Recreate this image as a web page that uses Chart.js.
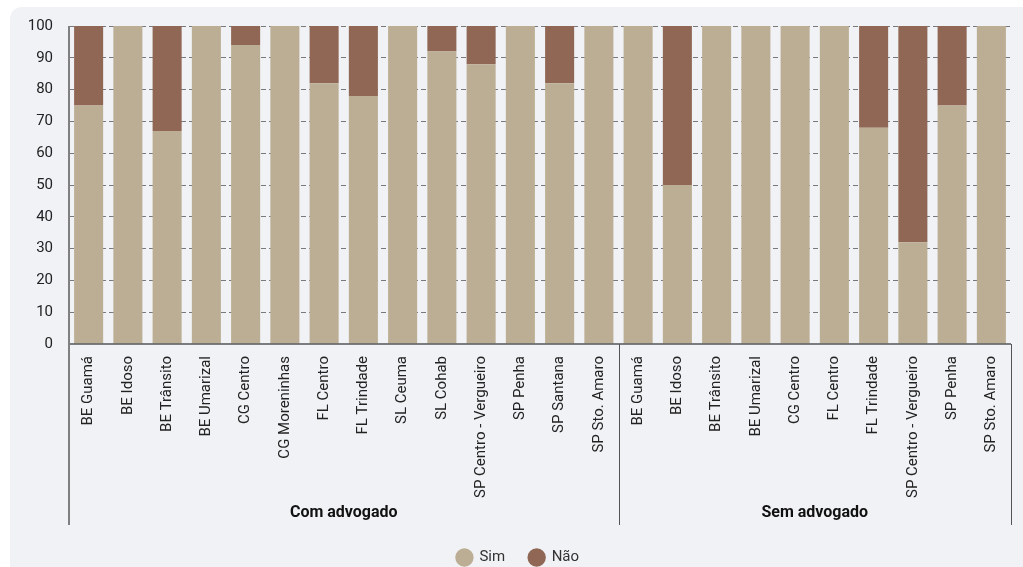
<!DOCTYPE html>
<html>
<head>
<meta charset="utf-8">
<script src="https://cdn.jsdelivr.net/npm/chart.js@4.4.1/dist/chart.umd.min.js"></script>
<style>
  html, body { margin: 0; padding: 0; background: #fff; width: 1023px; height: 567px; overflow: hidden; }
  .panel { position: absolute; left: 10px; top: 7px; width: 1013px; height: 560px; background: #f0f2f5; border-radius: 12px 0 0 0; }
  canvas { position: absolute; left: 0; top: 0; }
</style>
</head>
<body>
<div class="panel"></div>
<canvas id="chart" width="1023" height="567"></canvas>
<script>
// categories (two groups side by side)
const categories = [
  'BE Guamá', 'BE Idoso', 'BE Trânsito', 'BE Umarizal', 'CG Centro', 'CG Moreninhas',
  'FL Centro', 'FL Trindade', 'SL Ceuma', 'SL Cohab', 'SP Centro - Vergueiro',
  'SP Penha', 'SP Santana', 'SP Sto. Amaro',
  'BE Guamá', 'BE Idoso', 'BE Trânsito', 'BE Umarizal', 'CG Centro', 'FL Centro',
  'FL Trindade', 'SP Centro - Vergueiro', 'SP Penha', 'SP Sto. Amaro'
];
const groupNames = ['Com advogado', 'Sem advogado'];
const groupSizes = [14, 10];

// percentages
const simValues = [75, 100, 67, 100, 94, 100, 82, 78, 100, 92, 88, 100, 82, 100,
                   100, 50, 100, 100, 100, 100, 68, 32, 75, 100];
const naoValues = [25, 0, 33, 0, 6, 0, 18, 22, 0, 8, 12, 0, 18, 0,
                   0, 50, 0, 0, 0, 0, 32, 68, 25, 0];
const yTicks = [0, 10, 20, 30, 40, 50, 60, 70, 80, 90, 100];

const FONT = 'Roboto, "Noto Sans", sans-serif';
const AXIS_BOTTOM = 525;
const LEGEND_SHIFT = 8;

// Draws group separators, group names and the axis lines.
const groupAxisPlugin = {
  id: 'groupAxis',
  afterLayout: (chart) => {
    // push the legend a little lower, under the group labels
    chart.legend.top += LEGEND_SHIFT;
    chart.legend.bottom += LEGEND_SHIFT;
  },
  afterDraw: (chart) => {
    const { ctx, chartArea: { left, right, top, bottom }, scales: { x } } = chart;
    ctx.save();

    // baseline
    ctx.strokeStyle = '#555';
    ctx.lineWidth = 1.5;
    ctx.beginPath();
    ctx.moveTo(left, bottom);
    ctx.lineTo(right, bottom);
    ctx.stroke();

    // left axis line
    ctx.strokeStyle = '#808080';
    ctx.lineWidth = 2;
    ctx.beginPath();
    ctx.moveTo(left, top);
    ctx.lineTo(left, AXIS_BOTTOM);
    ctx.stroke();

    let start = 0;
    groupSizes.forEach((size, i) => {
      const end = start + size - 1;
      const x0 = start === 0 ? left : (x.getPixelForValue(start - 1) + x.getPixelForValue(start)) / 2;
      const x1 = end === categories.length - 1 ? right : (x.getPixelForValue(end) + x.getPixelForValue(end + 1)) / 2;

      ctx.strokeStyle = '#555';
      ctx.lineWidth = 1;
      ctx.beginPath();
      ctx.moveTo(Math.round(x1) + 0.5, bottom);
      ctx.lineTo(Math.round(x1) + 0.5, AXIS_BOTTOM);
      ctx.stroke();

      ctx.fillStyle = '#111';
      ctx.font = `bold 16px ${FONT}`;
      ctx.textAlign = 'center';
      ctx.textBaseline = 'middle';
      ctx.fillText(groupNames[i], (x0 + x1) / 2, 513);
      start += size;
    });
    ctx.restore();
  }
};

new Chart(document.getElementById('chart').getContext('2d'), {
  type: 'bar',
  data: {
    labels: categories,
    datasets: [
      { label: 'Sim', data: simValues, backgroundColor: '#bcae94', barPercentage: 0.74, categoryPercentage: 1 },
      { label: 'Não', data: naoValues, backgroundColor: '#8f6754', barPercentage: 0.74, categoryPercentage: 1 }
    ]
  },
  plugins: [groupAxisPlugin],
  options: {
    responsive: false,
    animation: false,
    layout: { padding: { top: 26, right: 12, left: 25, bottom: 0 } },
    plugins: {
      legend: {
        position: 'bottom',
        labels: {
          usePointStyle: true,
          pointStyle: 'circle',
          boxHeight: 13,
          padding: 24,
          color: '#333',
          font: { family: FONT, size: 15 }
        }
      },
      tooltip: { enabled: false }
    },
    scales: {
      x: {
        stacked: true,
        grid: { display: false },
        border: { display: false },
        ticks: {
          autoSkip: false,
          minRotation: 90,
          maxRotation: 90,
          padding: 4,
          color: '#222',
          font: { family: FONT, size: 15 }
        },
        afterFit: (scale) => { scale.height = 174; }
      },
      y: {
        stacked: true,
        min: 0,
        max: 100,
        z: 1,
        afterFit: (scale) => { scale.width = 44; },
        afterBuildTicks: (scale) => { scale.ticks = yTicks.map(v => ({ value: v })); },
        grid: {
          color: (c) => c.tick.value === 0 ? 'rgba(0,0,0,0)' : 'rgba(70,70,70,0.7)',
          lineWidth: 1,
          drawTicks: false
        },
        border: { display: false, dash: [5, 3] },
        ticks: {
          padding: 16,
          color: '#222',
          font: { family: FONT, size: 15 }
        }
      }
    }
  }
});
</script>
</body>
</html>
